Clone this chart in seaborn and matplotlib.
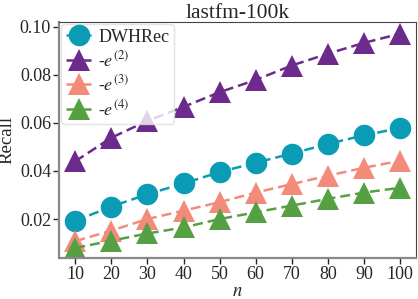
import pandas as pd
import matplotlib
matplotlib.use("Agg")
import matplotlib.pyplot as plt
import seaborn as sns

# --- data ---
n_values = [10, 20, 30, 40, 50, 60, 70, 80, 90, 100]
recall_dwhrec = [0.0192, 0.0252, 0.0303, 0.0348, 0.0395, 0.0434, 0.0472, 0.0512, 0.0548, 0.0578]
recall_e2 = [0.0440, 0.0538, 0.0608, 0.0666, 0.0727, 0.0778, 0.0838, 0.0887, 0.0932, 0.0970]
recall_e3 = [0.0108, 0.0152, 0.0200, 0.0235, 0.0270, 0.0310, 0.0345, 0.0380, 0.0413, 0.0442]
recall_e4 = [0.0080, 0.0110, 0.0140, 0.0165, 0.0200, 0.0228, 0.0256, 0.0284, 0.0310, 0.0330]

series_names = ["DWHRec", r"-$e^{(2)}$", r"-$e^{(3)}$", r"-$e^{(4)}$"]
series_colors = ["#0a9cb4", "#6b2a8c", "#f28b7a", "#56a044"]
series_markers = ["o", "^", "^", "^"]

df = pd.DataFrame({
    "n": n_values * 4,
    "Recall": recall_dwhrec + recall_e2 + recall_e3 + recall_e4,
    "model": sum([[s] * len(n_values) for s in series_names], []),
})

sns.set_style("white")
plt.rcParams.update({
    "font.family": ["Liberation Serif", "DejaVu Serif"],
    "mathtext.fontset": "stix",
    "axes.titlesize": 15.5,
    "axes.labelsize": 13.5,
    "xtick.labelsize": 13,
    "ytick.labelsize": 13,
    "legend.fontsize": 13,
})

fig, ax = plt.subplots(figsize=(4.18, 2.99), dpi=100)
sns.lineplot(data=df, x="n", y="Recall", hue="model", style="model",
             palette=dict(zip(series_names, series_colors)),
             markers=dict(zip(series_names, series_markers)),
             dashes={s: (4, 2) for s in series_names},
             markersize=15.5, markeredgewidth=0, linewidth=1.8, ax=ax)

ax.set_title("lastfm-100k", pad=3)
ax.set_xlabel("$n$", labelpad=0)
ax.set_ylabel("Recall", labelpad=3)
ax.set_xlim(5.6, 104.4)
ax.set_ylim(0.0038, 0.1017)
ax.set_xticks(n_values)
ax.set_yticks([0.02, 0.04, 0.06, 0.08, 0.10])
ax.set_yticklabels(["0.02", "0.04", "0.06", "0.08", "0.10"])
ax.tick_params(axis="both", length=4, width=1.0, direction="out", pad=2, left=True, bottom=True)

for side in ["top", "right"]:
    ax.spines[side].set_color("#444444")
    ax.spines[side].set_linewidth(0.8)
for side in ["left", "bottom"]:
    ax.spines[side].set_color("#888888")
    ax.spines[side].set_linewidth(1.6)

leg = ax.legend(loc="upper left", frameon=True, handlelength=1.5, handletextpad=0.3,
                borderpad=0.25, labelspacing=0.25, borderaxespad=0.1, fancybox=True)
leg.get_frame().set_edgecolor("#dddddd")

fig.subplots_adjust(left=0.142, right=0.995, top=0.925, bottom=0.137)
fig.savefig("out.png", dpi=100)
